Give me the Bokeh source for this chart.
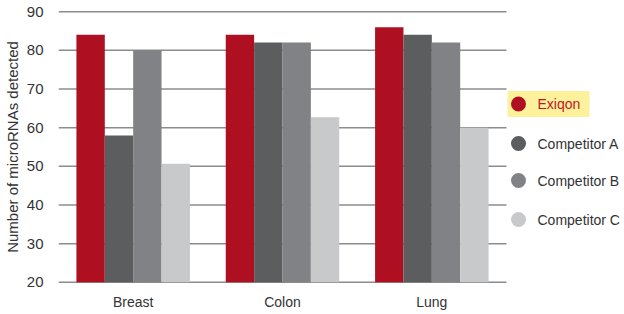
from bokeh.plotting import figure
from bokeh.models import ColumnDataSource, Range1d, FixedTicker
from bokeh.transform import dodge
from bokeh.embed import file_html
from bokeh.resources import INLINE
from bokeh.core.properties import value

categories = ["Breast", "Colon", "Lung"]
series = ["Exiqon", "Competitor A", "Competitor B", "Competitor C"]
exiqon = [84, 84, 86]
competitor_a = [58, 82, 84]
competitor_b = [80, 82, 82]
competitor_c = [50.7, 62.7, 60]
y_ticks = [20, 30, 40, 50, 60, 70, 80, 90]

colors = ["#AE1022", "#5C5D5F", "#818285", "#C8C9CB"]
text_colors = ["#C0162A", "#333333", "#333333", "#333333"]
FONT = "Liberation Sans"
GRID = "#8C8C8C"

BAR_PX = 448   # width of the bar area
LEG_PX = 116   # width of the legend area on the right
FRAME_H = 273

centers = [i + 0.5 for i in range(len(categories))]
src = ColumnDataSource(dict(x=centers, s0=exiqon, s1=competitor_a,
                            s2=competitor_b, s3=competitor_c))

n = len(categories)
p = figure(x_range=Range1d(0, n * (BAR_PX + LEG_PX) / BAR_PX),
           y_range=Range1d(19.7, 90.3),
           frame_width=BAR_PX + LEG_PX, frame_height=FRAME_H,
           output_backend="svg", toolbar_location=None,
           min_border_left=50, min_border_right=0, min_border_top=10,
           min_border_bottom=20)
p.extra_x_ranges = {"leg": Range1d(-BAR_PX, LEG_PX)}
p.extra_y_ranges = {"leg": Range1d(FRAME_H, 0)}

# grid lines across the bar area only
p.segment(x0=0, x1=n, y0=y_ticks, y1=y_ticks, line_color=GRID, line_width=1.5)

w = 0.19
offsets = [-1.5 * w, -0.5 * w, 0.5 * w, 1.5 * w]
for i, key in enumerate(["s0", "s1", "s2", "s3"]):
    p.vbar(x=dodge("x", offsets[i]), top=key, bottom=20,
           width=w, source=src, fill_color=colors[i], line_color=None)

p.outline_line_color = None
p.grid.visible = False

p.yaxis.ticker = FixedTicker(ticks=y_ticks)
p.yaxis.axis_line_color = None
p.yaxis.major_tick_line_color = None
p.yaxis.minor_tick_line_color = None
p.yaxis.major_label_text_font = FONT
p.yaxis.major_label_text_font_size = "15px"
p.yaxis.major_label_text_color = "#333333"
p.yaxis.major_label_standoff = 9
p.yaxis.axis_label = "Number of microRNAs detected"
p.yaxis.axis_label_text_font = FONT
p.yaxis.axis_label_text_font_style = "normal"
p.yaxis.axis_label_text_font_size = "15px"
p.yaxis.axis_label_text_color = "#333333"
p.yaxis.axis_label_standoff = 3

p.xaxis.ticker = FixedTicker(ticks=centers)
p.xaxis.major_label_overrides = {c: name for c, name in zip(centers, categories)}
p.xaxis.axis_line_color = None
p.xaxis.major_tick_line_color = None
p.xaxis.minor_tick_line_color = None
p.xaxis.major_label_text_font = FONT
p.xaxis.major_label_text_font_size = "14px"
p.xaxis.major_label_text_color = "#333333"
p.xaxis.major_label_standoff = 4

# legend (pixel-like coordinates in the legend area)
leg_y = [93.5, 133, 170, 209]
p.quad(left=1, right=83, top=80.5, bottom=106.5, fill_color="#FDF29B", line_color=None,
       x_range_name="leg", y_range_name="leg")
p.scatter(x=[12] * 4, y=leg_y, size=15, fill_color=colors, line_color=None,
          x_range_name="leg", y_range_name="leg")
p.text(x=[31] * 4, y=leg_y, text=series, text_baseline="middle",
       text_font=value(FONT), text_font_size="14px", text_color=text_colors,
       x_range_name="leg", y_range_name="leg")

open("out.html", "w").write(file_html(p, INLINE))
